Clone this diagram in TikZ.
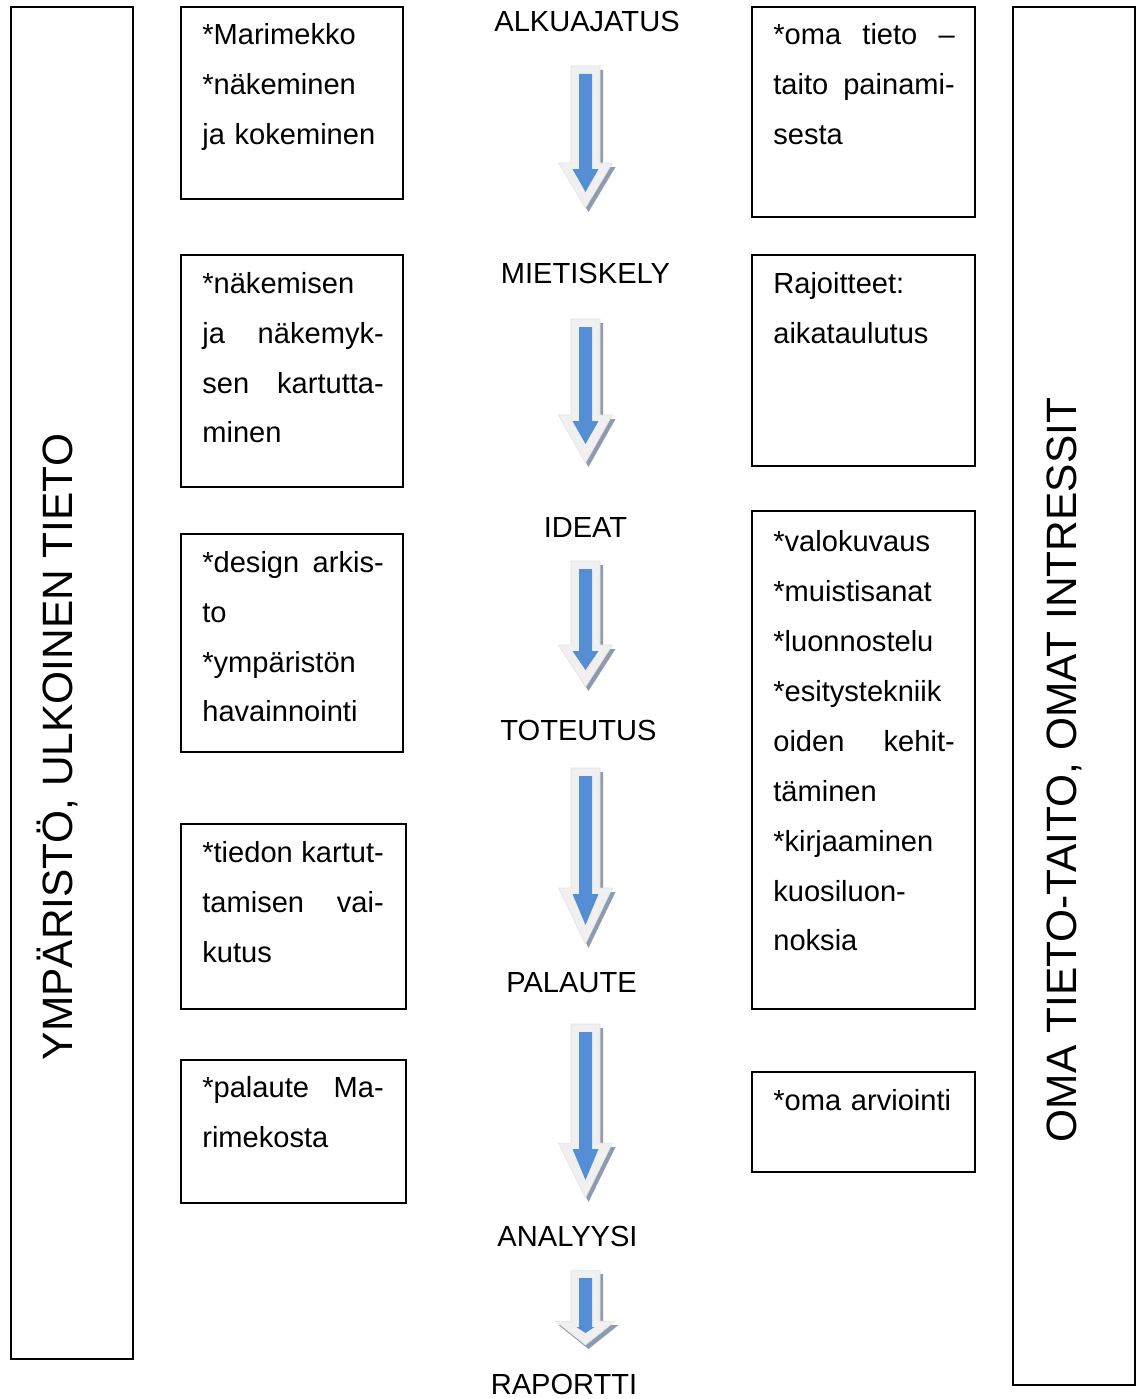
\documentclass[tikz,border=0pt]{standalone}
\usepackage{fontspec}
\setmainfont{Liberation Sans}
\definecolor{arrowblue}{RGB}{85,142,213}
\definecolor{arrowshade}{RGB}{142,154,174}
\definecolor{arrowrim}{RGB}{240,240,240}
\newcommand{\boxfont}{\fontsize{16.55}{28.4}\selectfont}
\newcommand{\sidefont}{\fontsize{24.15}{29}\selectfont}
\newcommand{\jl}[1]{\makebox[3.63cm][l]{#1}}
\def\arrowoutline#1#2#3#4#5#6{({(#1)-(#5)},#2) -- ({(#1)+(#5)},#2) -- ({(#1)+(#5)},#3) -- ({(#1)+(#6)},#3) -- (#1,#4) -- ({(#1)-(#6)},#3) -- ({(#1)-(#5)},#3) -- cycle}
% cx, top, head top, tip, head half width, inner head half width, inner tip
\newcommand{\blockarrow}[7]{%
	\fill[arrowshade, shift={(3,4)}] \arrowoutline{#1}{#2}{#3}{#4}{14.5}{#5};
	\filldraw[fill=arrowrim, draw=black!12, line width=0.3pt] \arrowoutline{#1}{#2}{#3}{#4}{14.5}{#5};
	\fill[arrowblue] \arrowoutline{#1}{{(#2)+8}}{{(#3)+6}}{#7}{6.5}{#6};
}

\begin{document}
\begin{tikzpicture}[x=0.02cm, y=-0.02cm,
	box/.style={draw, line width=0.9pt},
	boxtext/.style={anchor=north west, inner sep=0pt, text width=3.7cm, align=left, font=\boxfont},
	phase/.style={anchor=base, inner sep=0pt, font=\boxfont},
	sidelabel/.style={anchor=base, rotate=90, inner sep=0pt, font=\sidefont}]
		%%%%% START %%%%%
		\useasboundingbox (0, 0) rectangle (1136, 1399);
		
		% side columns
		\draw[box] (11, 7) rectangle (133, 1359);
		\node[sidelabel] (outside) at (72, 747) {YMPÄRISTÖ, ULKOINEN TIETO};
		\draw[box] (1013, 7) rectangle (1135, 1385);
		\node[sidelabel] (inside) at (1076, 770) {OMA TIETO-TAITO, OMAT INTRESSIT};
		
		% left boxes
		\draw[box] (181, 7) rectangle (403, 199);
		\node[boxtext] (marimekko) at (202, 9.5) {\strut*Marimekko\\{}*näkeminen\\ja kokeminen};
		
		\draw[box] (181, 255) rectangle (403, 487);
		\node[boxtext] (nakeminen) at (202, 258) {\strut*näkemisen\\\jl{ja\hfill näkemyk-}\\\jl{sen\hfill kartutta-}\\minen};
		
		\draw[box] (181, 534) rectangle (403, 752);
		\node[boxtext] (arkisto) at (202, 537) {\strut\jl{*design\hfill arkis-}\\to\\{}*ympäristön\\havainnointi};
		
		\draw[box] (181, 824) rectangle (406, 1009);
		\node[boxtext] (kartutus) at (202, 827) {\strut\jl{*tiedon\hfill kartut-}\\\jl{tamisen\hfill vai-}\\kutus};
		
		\draw[box] (181, 1060) rectangle (406, 1203);
		\node[boxtext] (palaute) at (202, 1062) {\strut\jl{*palaute\hfill Ma-}\\rimekosta};
		
		% right boxes
		\draw[box] (752, 7) rectangle (975, 217);
		\node[boxtext] (taito) at (773, 9.5) {\strut\jl{*oma\hfill tieto\hfill –}\\\jl{taito\hfill painami-}\\sesta};
		
		\draw[box] (752, 255) rectangle (975, 466);
		\node[boxtext] (rajoitteet) at (773, 258) {\strut Rajoitteet:\\aikataulutus};
		
		\draw[box] (752, 511) rectangle (975, 1009);
		\node[boxtext] (keinot) at (773, 516.5) {\strut*valokuvaus\\{}*muistisanat\\{}*luonnostelu\\{}*esitystekniik\\\jl{oiden\hfill kehit-}\\täminen\\{}*kirjaaminen\\kuosiluon-\\noksia};
		
		\draw[box] (752, 1072) rectangle (975, 1172);
		\node[boxtext] (arviointi) at (773, 1075) {\strut*oma arviointi};
		
		% phases
		\node[phase] (alku) at (587, 31.5) {ALKUAJATUS};
		\node[phase] (mietiskely) at (585.5, 283) {MIETISKELY};
		\node[phase] (ideat) at (585.5, 537) {IDEAT};
		\node[phase] (toteutus) at (578.5, 740) {TOTEUTUS};
		\node[phase] (palautevaihe) at (571.5, 992) {PALAUTE};
		\node[phase] (analyysi) at (567.5, 1246) {ANALYYSI};
		\node[phase] (raportti) at (564, 1394) {RAPORTTI};
		
		\blockarrow{585.5}{66}{163}{208}{27}{13}{192};
		\blockarrow{585.5}{319}{415}{463}{27}{13}{444};
		\blockarrow{585.5}{561}{645}{687}{27}{13}{670};
		\blockarrow{585.5}{768}{888}{944}{27}{13}{925};
		\blockarrow{585.5}{1024}{1143}{1198}{27}{13}{1180};
		\blockarrow{585.5}{1270}{1321}{1345}{30}{9}{1333};
		
		%%%%% END %%%%%
	\end{tikzpicture}
\end{document}
